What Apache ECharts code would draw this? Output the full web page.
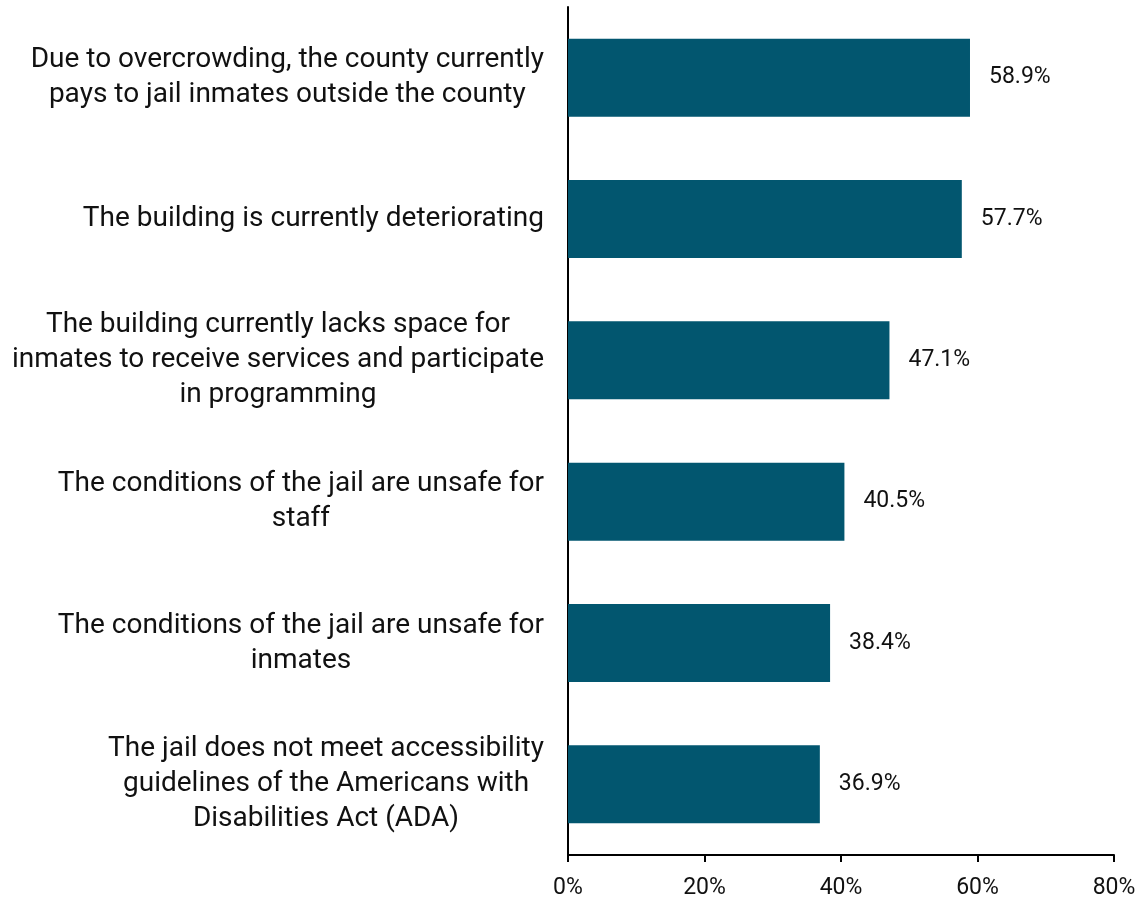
<!DOCTYPE html>
<html>
<head>
<meta charset="utf-8">
<script src="https://cdn.jsdelivr.net/npm/echarts@6/dist/echarts.min.js"></script>
<style>
  html, body { margin: 0; padding: 0; background: #fff; }
  #chart { width: 1141px; height: 900px; }
</style>
</head>
<body>
<div id="chart"></div>
<script>
// reasons listed top to bottom
const reasons = [
  'Due to overcrowding, the county currently\npays to jail inmates outside the county',
  'The building is currently deteriorating',
  'The building currently lacks space for\ninmates to receive services and participate\nin programming',
  'The conditions of the jail are unsafe for\nstaff',
  'The conditions of the jail are unsafe for\ninmates',
  'The jail does not meet accessibility\nguidelines of the Americans with\nDisabilities Act (ADA)'
]
const shares = [58.9, 57.7, 47.1, 40.5, 38.4, 36.9]
const xTicks = [0, 20, 40, 60, 80]

const chart = echarts.init(document.getElementById('chart'))

// center each line inside the right-aligned label block
const centerLines = (txt) => txt.split('\n').map(s => '{c|' + s + '}').join('\n')

chart.setOption({
  animation: false,
  textStyle: { fontFamily: 'Roboto' },
  grid: { left: 568, right: 27, top: 7, bottom: 44 },
  xAxis: {
    type: 'value',
    min: xTicks[0],
    max: xTicks[xTicks.length - 1],
    interval: 20,
    axisLine: { show: true, lineStyle: { color: '#000', width: 2 } },
    axisTick: { show: true, length: 7, lineStyle: { color: '#000', width: 2 } },
    splitLine: { show: false },
    axisLabel: {
      formatter: '{value}%',
      color: '#111',
      fontSize: 23,
      margin: 22
    }
  },
  yAxis: {
    type: 'category',
    inverse: true,
    data: reasons,
    axisLine: { show: true, lineStyle: { color: '#000', width: 2 } },
    axisTick: { show: false },
    axisLabel: {
      margin: 24,
      formatter: centerLines,
      rich: {
        c: { align: 'center', fontSize: 28, lineHeight: 35, color: '#111', fontFamily: 'Roboto' }
      }
    }
  },
  series: [
    {
      type: 'bar',
      data: shares,
      barWidth: 78,
      itemStyle: { color: '#02566f' },
      label: {
        show: true,
        position: 'right',
        distance: 19,
        formatter: (p) => p.value.toFixed(1) + '%',
        color: '#111',
        fontSize: 23
      }
    }
  ]
})
</script>
</body>
</html>
